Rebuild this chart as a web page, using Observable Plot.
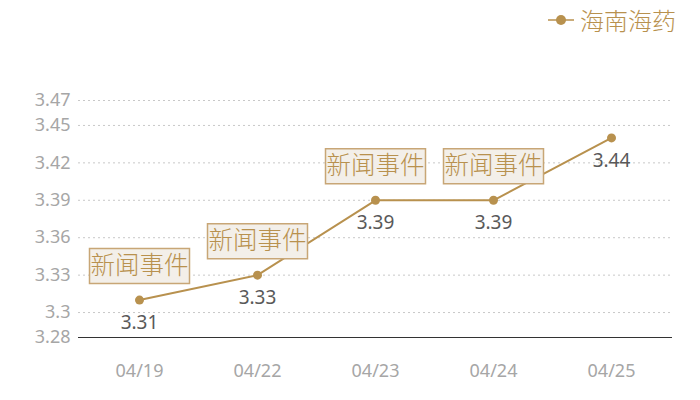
<!DOCTYPE html>
<html>
<head>
<meta charset="utf-8">
<script src="https://cdn.jsdelivr.net/npm/d3@7"></script>
<script src="https://cdn.jsdelivr.net/npm/@observablehq/plot@0.6"></script>
<style>
  html, body { margin: 0; padding: 0; background: #fff; }
  body { width: 700px; height: 400px; overflow: hidden; font-family: "Noto Sans", "Noto Sans CJK SC", sans-serif; }
  #legend { height: 44px; position: relative; }
  #legend .item { position: absolute; right: 24px; top: 2px; display: flex; align-items: center; color: #b8914e; font-size: 24px; font-weight: 300; font-family: "Noto Sans CJK SC", sans-serif; }
  #legend svg { margin-right: 6px; }
  #chart svg g[aria-label="y-axis tick label"] text,
  #chart svg g[aria-label="x-axis tick label"] text { font-size: 18px; }
</style>
</head>
<body>
<div id="legend"></div>
<div id="chart"></div>
<script>
const seriesName = "海南海药";
const dates = ["04/19", "04/22", "04/23", "04/24", "04/25"];
const prices = [3.31, 3.33, 3.39, 3.39, 3.44];
const eventDates = ["04/19", "04/22", "04/23", "04/24"];
const eventLabel = "新闻事件";
const yTicks = [3.28, 3.3, 3.33, 3.36, 3.39, 3.42, 3.45, 3.47];
const yDomain = [3.28, 3.47];

const gold = "#b8914e";
const data = dates.map((d, i) => ({date: d, price: prices[i]}));
const events = data.filter(d => eventDates.includes(d.date));

// legend
const leg = document.getElementById("legend");
leg.innerHTML = `<div class="item"><svg width="26" height="14"><line x1="0" y1="7" x2="26" y2="7" stroke="${gold}" stroke-width="1.5"/><circle cx="13" cy="7" r="5" fill="${gold}"/></svg><span>${seriesName}</span></div>`;

const boxSymbol = {
  draw(context) {
    const w = 100, h = 35;
    context.moveTo(-w / 2, -h / 2);
    context.lineTo(w / 2, -h / 2);
    context.lineTo(w / 2, h / 2);
    context.lineTo(-w / 2, h / 2);
    context.closePath();
  }
};

const chart = Plot.plot({
  width: 700,
  height: 356,
  marginLeft: 78,
  marginRight: 28,
  marginTop: 56,
  marginBottom: 63,
  style: {fontFamily: "'Noto Sans', 'Noto Sans CJK SC', sans-serif", background: "#fff"},
  x: {type: "point", domain: dates, padding: 0.5, label: null},
  y: {domain: yDomain, label: null},
  marks: [
    Plot.ruleY(yTicks.slice(1), {stroke: "#c8c8c8", strokeDasharray: "2,3", strokeWidth: 1}),
    Plot.ruleY([yDomain[0]], {stroke: "#333", strokeWidth: 1.2}),
    Plot.axisY({ticks: yTicks, tickSize: 0, tickPadding: 8, tickFormat: d => String(+d.toFixed(2)), fontSize: 18, color: "#a6a6a6", label: null}),
    Plot.axisX({tickSize: 0, tickPadding: 27, fontSize: 18, color: "#a6a6a6", label: null}),
    Plot.line(data, {x: "date", y: "price", stroke: gold, strokeWidth: 2}),
    Plot.dot(data, {x: "date", y: "price", r: 4.5, fill: gold}),
    Plot.text(data, {x: "date", y: "price", text: d => String(d.price), dy: 23, fontSize: 19, fill: "#595959"}),
    Plot.dot(events, {x: "date", y: "price", dy: -34, symbol: boxSymbol, r: 10, fill: "#f3efe9", stroke: "#c8a676", strokeWidth: 1.5}),
    Plot.text(events, {x: "date", y: "price", dy: -34, text: () => eventLabel, fontSize: 24.5, fontWeight: 300, fontFamily: "'Noto Sans CJK SC', sans-serif", fill: gold})
  ]
});
document.getElementById("chart").appendChild(chart);
</script>
</body>
</html>
